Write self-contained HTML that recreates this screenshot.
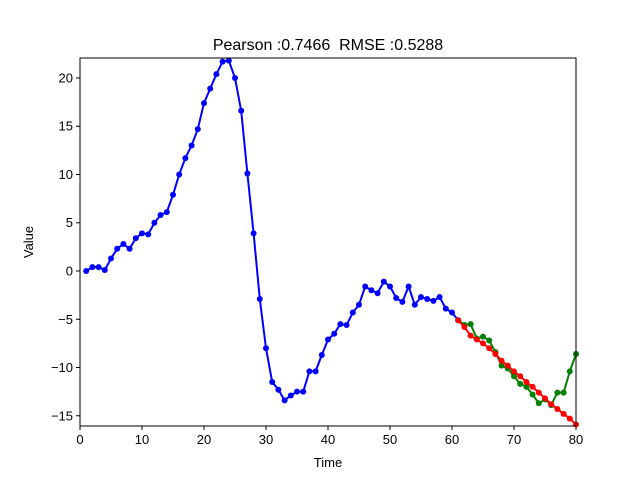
<!DOCTYPE html>
<html><head><meta charset="utf-8"><style>
body{margin:0;background:#fff}
svg{display:block;font-family:"Liberation Sans",sans-serif}
</style></head><body>
<svg id="chart" width="640" height="480">
<rect width="640" height="480" fill="#fff"/>
<text x="328" y="50" text-anchor="middle" font-size="16" style="white-space:pre" xml:space="preserve">Pearson :0.7466  RMSE :0.5288</text>
<g id="ticks"></g>
<g id="series"></g>
<rect x="80" y="58" width="496" height="368" fill="none" stroke="#000" stroke-width="1"/>
<text x="328" y="467" text-anchor="middle" font-size="13">Time</text>
<text transform="translate(33,242) rotate(-90)" text-anchor="middle" font-size="13">Value</text>
</svg>
<script>
const actualX=[1,2,3,4,5,6,7,8,9,10,11,12,13,14,15,16,17,18,19,20,21,22,23,24,25,26,27,28,29,30,31,32,33,34,35,36,37,38,39,40,41,42,43,44,45,46,47,48,49,50,51,52,53,54,55,56,57,58,59,60,61];
const actualY=[0.0,0.4,0.4,0.1,1.3,2.3,2.8,2.3,3.4,3.9,3.8,5.0,5.8,6.1,7.9,10.0,11.7,13.0,14.7,17.4,18.9,20.4,21.7,21.8,20.0,16.6,10.1,3.9,-2.9,-8.0,-11.5,-12.3,-13.4,-12.9,-12.5,-12.5,-10.4,-10.4,-8.7,-7.1,-6.5,-5.5,-5.6,-4.3,-3.5,-1.6,-2.0,-2.3,-1.1,-1.6,-2.8,-3.2,-1.6,-3.5,-2.7,-2.9,-3.1,-2.7,-3.9,-4.3,-5.1];
const forecastX=[61,62,63,64,65,66,67,68,69,70,71,72,73,74,75,76,77,78,79,80];
const predY=[-5.1,-5.8,-6.7,-7.1,-7.5,-8.0,-8.6,-9.3,-9.8,-10.4,-10.9,-11.5,-12.0,-12.6,-13.2,-13.8,-14.3,-14.8,-15.3,-15.9];
const trueY=[-5.1,-5.6,-5.5,-7.0,-6.8,-7.2,-8.4,-9.8,-10.1,-10.9,-11.7,-12.0,-12.8,-13.7,-13.3,-13.9,-12.6,-12.6,-10.4,-8.6];
const xTicks=[0,10,20,30,40,50,60,70,80];
const yTicks=[-15,-10,-5,0,5,10,15,20];
const NS='http://www.w3.org/2000/svg';
const X0=80,X1=576,Y0=426,Y1=58,xmin=0,xmax=80,ymin=-16.06,ymax=22.07;
function sx(v){return X0+(v-xmin)/(xmax-xmin)*(X1-X0);}
function sy(v){return Y0-(v-ymin)/(ymax-ymin)*(Y0-Y1);}
function mk(t,a,p){const e=document.createElementNS(NS,t);for(const k in a)e.setAttribute(k,a[k]);p.appendChild(e);return e;}
const tg=document.getElementById('ticks');
xTicks.forEach(v=>{
  const l=mk('line',{x1:sx(v),x2:sx(v),y1:Y0,y2:Y0+4,stroke:'#000'},tg);
  
  
  const t=mk('text',{x:sx(v),y:Y0+18,'text-anchor':'middle','font-size':'13'},tg);t.textContent=v;
  
  
});
yTicks.forEach(v=>{
  const l=mk('line',{x1:X0-4,x2:X0,y1:sy(v),y2:sy(v),stroke:'#000'},tg);
  
  
  const t=mk('text',{x:X0-7,y:sy(v)+4.5,'text-anchor':'end','font-size':'13'},tg);t.textContent=v<0?'\u2212'+(-v):v;
  
  
});
const sg=document.getElementById('series');
function series(xs,ys,col,name){
  const g=mk('g',{},sg);
  
  
  const pl=mk('polyline',{points:xs.map((x,i)=>sx(x)+','+sy(ys[i])).join(' '),fill:'none',stroke:col,'stroke-width':2},g);
  
  
  xs.forEach((x,i)=>{const c=mk('circle',{cx:sx(x),cy:sy(ys[i]),r:3,fill:col},g);
    
    });
}
series(actualX,actualY,'#0000ff','history-series');
series(forecastX,trueY,'#008000','actual-series');
series(forecastX,predY,'#ff0000','predicted-series');
</script>
</body></html>
